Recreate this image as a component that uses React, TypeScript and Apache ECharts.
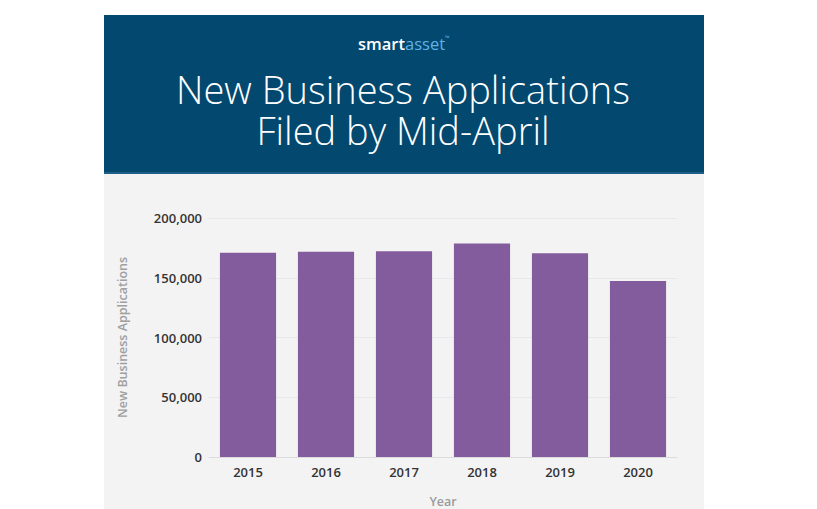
import React, { useEffect, useRef } from "react";
import * as echarts from "echarts";

const categories = ["2015", "2016", "2017", "2018", "2019", "2020"];
const applications = [171000, 171800, 172200, 178600, 170400, 147200];
const yTicks = [0, 50000, 100000, 150000, 200000];
const titleLines = ["New Business Applications", "Filed by Mid-April"];

export default function App() {
  const ref = useRef<HTMLDivElement>(null);
  useEffect(() => {
    document.body.style.margin = "0";
    const chart = echarts.init(ref.current!, null, { renderer: "svg" });
    chart.setOption({
      animation: false,
      backgroundColor: "#ffffff",
      graphic: [
        { type: "rect", z: -10, shape: { x: 104, y: 174, width: 600, height: 335 }, style: { fill: "#f3f3f4" } },
        { type: "rect", z: -10, shape: { x: 104, y: 15, width: 600, height: 159 }, style: { fill: "#02486f" } },
        { type: "rect", z: -10, shape: { x: 104, y: 172, width: 600, height: 2 }, style: { fill: "#1d5f87" } },
        {
          type: "text", left: 358, top: 35,
          style: { text: "{a|smart}{b|asset}{c|™}", rich: {
            a: { fill: "#ffffff", fontSize: 16.5, fontFamily: "Open Sans", fontWeight: 600 },
            b: { fill: "#5fb3e6", fontSize: 16.5, fontFamily: "Open Sans", fontWeight: 400 },
            c: { fill: "#5fb3e6", fontSize: 6, fontFamily: "Open Sans", verticalAlign: "top" } } }
        },
        {
          type: "text", x: 403, y: 109,
          style: { text: titleLines.join("\n"), fill: "#ffffff", fontSize: 38, lineHeight: 41, fontFamily: "Open Sans", fontWeight: 300, textAlign: "center", textVerticalAlign: "middle" }
        }
      ],
      grid: { left: 209, right: 140, top: 218, bottom: 52, containLabel: false },
      xAxis: {
        type: "category",
        data: categories,
        name: "Year",
        nameLocation: "middle",
        nameGap: 38,
        nameTextStyle: { color: "#9a9a9a", fontSize: 12.5, fontWeight: 600, fontFamily: "Open Sans" },
        axisLine: { lineStyle: { color: "#dcdcde" } },
        axisTick: { show: false },
        axisLabel: { color: "#333333", fontSize: 13, fontWeight: 600, fontFamily: "Open Sans", margin: 8 }
      },
      yAxis: {
        type: "value",
        min: yTicks[0],
        max: yTicks[yTicks.length - 1],
        interval: yTicks[1] - yTicks[0],
        name: "New Business Applications",
        nameLocation: "middle",
        nameRotate: 90,
        nameGap: 80,
        nameTextStyle: { color: "#a0a0a0", fontSize: 12.5, fontWeight: 600, fontFamily: "Open Sans" },
        axisLine: { show: false },
        axisTick: { show: false },
        splitLine: { lineStyle: { color: "#e8e8ea" } },
        axisLabel: {
          color: "#333333", fontSize: 13, fontWeight: 600, fontFamily: "Open Sans", margin: 7,
          formatter: (v: number) => v.toLocaleString("en-US")
        }
      },
      series: [
        {
          type: "bar",
          data: applications,
          barCategoryGap: "28%",
          itemStyle: { color: "#835c9d" }
        }
      ]
    });
    return () => chart.dispose();
  }, []);
  return <div ref={ref} style={{ width: 817, height: 509 }} />;
}
